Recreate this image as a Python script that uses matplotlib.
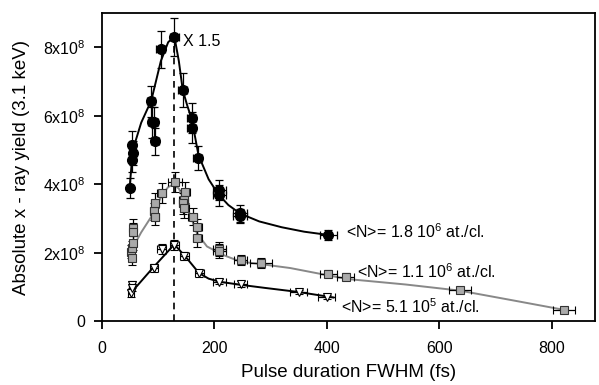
import matplotlib
matplotlib.use("Agg")
from matplotlib import pyplot as plt
from matplotlib.ticker import FixedLocator, FixedFormatter

plt.rcParams['font.family'] = ['Liberation Sans', 'DejaVu Sans']
plt.rcParams['mathtext.fontset'] = 'custom'
plt.rcParams['mathtext.rm'] = 'Liberation Sans'
plt.rcParams['mathtext.it'] = 'Liberation Sans:italic'

# yields in units of 1e8, durations in fs
black_x = [51, 54, 55, 54, 88, 89, 93, 95, 105, 129, 144, 160, 160, 171, 209, 209, 246, 246, 403]
black_y = [3.89, 4.72, 4.92, 5.16, 6.43, 5.81, 5.81, 5.26, 7.94, 8.31, 6.75, 5.94, 5.66, 4.77, 3.84, 3.68, 3.16, 3.08, 2.53]
black_yerr = [0.3, 0.35, 0.35, 0.4, 0.45, 0.45, 0.45, 0.4, 0.55, 0.55, 0.5, 0.45, 0.45, 0.35, 0.3, 0.3, 0.25, 0.2, 0.15]
black_xerr = [5, 5, 5, 5, 7, 7, 7, 7, 8, 8, 8, 8, 8, 8, 12, 12, 12, 12, 15]

grey_x = [52, 53, 54, 55, 56, 56, 92, 94, 94, 107, 130, 148, 146, 145, 147, 162, 170, 170, 209, 209, 247, 283, 403, 434, 637, 822]
grey_y = [2.04, 1.85, 2.14, 2.29, 2.73, 2.62, 3.21, 3.06, 3.45, 3.75, 4.07, 3.77, 3.55, 3.45, 3.31, 3.06, 2.75, 2.43, 2.12, 2.05, 1.80, 1.70, 1.39, 1.31, 0.92, 0.34]
grey_yerr = [0.2, 0.2, 0.2, 0.2, 0.25, 0.25, 0.25, 0.25, 0.3, 0.3, 0.3, 0.3, 0.3, 0.3, 0.3, 0.25, 0.25, 0.25, 0.2, 0.2, 0.15, 0.15, 0.1, 0.1, 0.08, 0.05]
grey_xerr = [5, 5, 5, 5, 5, 5, 7, 7, 7, 8, 12, 8, 8, 8, 8, 8, 8, 8, 12, 12, 12, 20, 15, 15, 20, 20]

tri_x = [52, 54, 53, 93, 107, 129, 147, 173, 209, 247, 350, 400]
tri_y = [0.82, 1.07, 0.98, 1.57, 2.12, 2.24, 1.90, 1.41, 1.16, 1.09, 0.87, 0.71]
tri_yerr = [0.1, 0.1, 0.1, 0.12, 0.15, 0.15, 0.12, 0.1, 0.08, 0.08, 0.06, 0.05]
tri_xerr = [5, 5, 5, 7, 8, 8, 8, 8, 12, 12, 15, 15]

# fitted curves
fit_black_x = [50, 55, 70, 88, 105, 118, 129, 137, 144, 152, 160, 172, 190, 207, 225, 246, 280, 320, 360, 405]
fit_black_y = [4.0, 5.0, 5.8, 6.45, 7.6, 8.15, 8.32, 7.6, 6.75, 6.3, 5.9, 4.85, 4.15, 3.72, 3.4, 3.15, 2.92, 2.75, 2.62, 2.52]
fit_grey_x = [50, 70, 92, 107, 118, 127, 137, 145, 157, 169, 187, 216, 246, 280, 335, 436, 540, 637, 730, 822]
fit_grey_y = [2.0, 2.6, 3.16, 3.7, 3.92, 4.0, 3.88, 3.6, 3.11, 2.58, 2.19, 1.94, 1.75, 1.68, 1.56, 1.24, 1.08, 0.90, 0.62, 0.34]
fit_tri_x = [50, 90, 129, 151, 173, 190, 209, 247, 290, 350, 412]
fit_tri_y = [0.8, 1.55, 2.25, 1.85, 1.41, 1.25, 1.16, 1.07, 0.98, 0.86, 0.70]

peak_x = 129
scale = 1e8

fig = plt.figure(figsize=(5.99, 3.85), dpi=100)
ax = fig.add_axes([0.17, 0.165, 0.823, 0.801])

ax.plot(fit_black_x, [v * scale for v in fit_black_y], color='black', lw=1.4, zorder=2)
ax.plot(fit_grey_x, [v * scale for v in fit_grey_y], color='#888888', lw=1.4, zorder=2)
ax.plot(fit_tri_x, [v * scale for v in fit_tri_y], color='black', lw=1.4, zorder=2)

ax.vlines(peak_x, 0, 8.31 * scale, colors='black', linestyles=(0, (4, 3)), lw=1.2, zorder=1)

ebkw = dict(ecolor='black', elinewidth=0.9, capsize=3, capthick=0.9, linestyle='none', zorder=3)
ax.errorbar(black_x, [v * scale for v in black_y], yerr=[v * scale for v in black_yerr], xerr=black_xerr,
            marker='o', ms=7, mfc='black', mec='black', **ebkw)
ax.errorbar(grey_x, [v * scale for v in grey_y], yerr=[v * scale for v in grey_yerr], xerr=grey_xerr,
            marker='s', ms=5.5, mfc='#aaaaaa', mec='#333333', mew=0.8, **ebkw)
ax.errorbar(tri_x, [v * scale for v in tri_y], yerr=[v * scale for v in tri_yerr], xerr=tri_xerr,
            marker='v', ms=5.5, mfc='white', mec='black', mew=0.8, **ebkw)

ax.text(145, 8.18 * scale, 'X 1.5', fontsize=11.5, va='center')
ax.text(435, 2.63 * scale, '<N>= 1.8 10$^{6}$ at./cl.', fontsize=11.5, va='center')
ax.text(454, 1.46 * scale, '<N>= 1.1 10$^{6}$ at./cl.', fontsize=11.5, va='center')
ax.text(425, 0.43 * scale, '<N>= 5.1 10$^{5}$ at./cl.', fontsize=11.5, va='center')

ax.set_xlim(0, 877)
ax.set_ylim(0, 9e8)
ax.xaxis.set_major_locator(FixedLocator([0, 200, 400, 600, 800]))
ax.yaxis.set_major_locator(FixedLocator([0, 2e8, 4e8, 6e8, 8e8]))
ax.yaxis.set_major_formatter(FixedFormatter(['0', '2x10$^{8}$', '4x10$^{8}$', '6x10$^{8}$', '8x10$^{8}$']))
ax.tick_params(direction='out', length=6, width=1.3, labelsize=11.5)
ax.tick_params(axis='x', pad=8)
ax.tick_params(axis='y', pad=6)
for s in ax.spines.values():
    s.set_linewidth(1.3)

ax.set_xlabel('Pulse duration FWHM (fs)', fontsize=13.5, labelpad=6)
ax.set_ylabel('Absolute x - ray yield (3.1 keV)', fontsize=13.5, labelpad=9)

fig.savefig('out.png', dpi=100)
